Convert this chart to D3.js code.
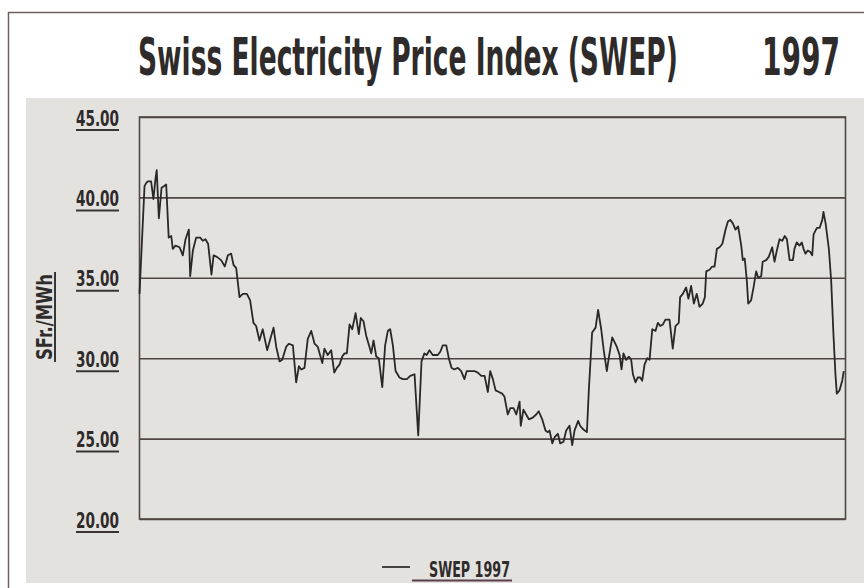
<!DOCTYPE html>
<html>
<head>
<meta charset="utf-8">
<script src="https://cdn.jsdelivr.net/npm/d3@7"></script>
<style>
  html, body { margin: 0; padding: 0; background: #fff; }
  svg { display: block; }
  .lbl { font-family: "Liberation Sans Narrow", "Arial Narrow", "DejaVu Sans Condensed", sans-serif; font-weight: bold; fill: #2e2b2a; }
</style>
</head>
<body>
<div class="chart-swep"></div>
<script>
const titleText = `Swiss Electricity Price Index (SWEP)`;
const yearText = `1997`;
const yTitle = `SFr./MWh`;
const seriesName = `SWEP 1997`;
const yTicks = [20, 25, 30, 35, 40, 45];

// day of year
const days = [
  0, 2.6, 3.5, 4.3, 6.0, 7.2, 8.3, 8.9, 10.0, 11.4, 12.6, 13.8, 15.1, 16.4, 17.2, 18.6, 20.7, 22.4, 23.8, 25.5,
  26.2, 27.6, 29.3, 31.4, 32.7, 34.1, 35.5, 37.2, 38.3, 40.0, 42.2, 44.1, 45.7, 47.4, 48.6, 50.0, 51.7, 53.4, 55.5, 57.2,
  58.9, 60.3, 62.0, 63.7, 66.0, 68.1, 69.3, 70.7, 72.4, 73.8, 75.8, 77.2, 79.3, 81.0, 82.4, 83.6, 85.3, 87.0, 88.8, 90.5,
  92.2, 94.5, 95.6, 97.3, 99.1, 100.7, 102.0, 103.4, 104.8, 106.0, 107.2, 108.6, 110.0, 111.7, 113.4, 114.4, 115.8, 117.2, 118.9, 119.8,
  121.0, 122.4, 123.7, 125.5, 127.0, 128.4, 129.6, 131.0, 132.4, 134.4, 136.1, 138.2, 140.0, 142.2, 144.1, 145.8, 147.3, 148.5, 149.9, 151.6,
  153.0, 154.2, 155.5, 156.8, 158.6, 159.9, 161.3, 162.7, 164.6, 166.3, 168.0, 169.2, 171.5, 173.2, 174.9, 176.7, 178.4, 180.1, 181.3, 182.7,
  184.1, 185.8, 187.5, 188.7, 190.4, 191.7, 193.4, 194.8, 196.5, 197.1, 198.5, 199.9, 201.3, 203.3, 205.1, 206.4, 208.2, 209.9, 211.1, 212.0,
  213.4, 214.7, 216.3, 217.5, 219.2, 220.6, 222.3, 223.7, 224.9, 226.8, 227.8, 229.2, 231.3, 232.3, 234.0, 235.8, 237.1, 238.7, 240.0, 241.6,
  242.6, 244.4, 245.6, 246.8, 248.2, 249.2, 250.2, 251.6, 253.0, 254.2, 255.1, 256.4, 257.6, 258.9, 259.9, 261.1, 262.5, 263.7, 265.1, 266.8,
  268.0, 269.2, 270.6, 271.9, 274.0, 275.7, 277.1, 278.8, 279.5, 280.9, 282.6, 283.8, 285.2, 286.6, 288.1, 289.5, 291.2, 292.3, 293.0, 294.7,
  296.1, 297.3, 298.5, 299.9, 301.3, 303.0, 304.2, 305.4, 306.7, 308.1, 309.5, 311.1, 311.9, 312.9, 314.0, 314.7, 316.2, 317.6, 318.8, 319.9,
  321.4, 322.2, 324.0, 325.3, 327.1, 328.3, 329.5, 330.9, 332.3, 333.6, 334.7, 336.1, 337.8, 338.6, 339.8, 341.2, 342.4, 343.3, 344.3, 345.5,
  346.8, 347.8, 348.5, 350.2, 351.6, 353.0, 353.6, 354.7, 356.4, 357.6, 358.8, 359.8, 360.5, 361.9, 363.3, 364.1
];

// SFr./MWh
const prices = [
  34.0, 40.7, 40.9, 41.0, 41.0, 39.9, 41.2, 41.7, 38.7, 40.6, 40.7, 40.8, 37.5, 37.6, 36.8, 37.0, 36.9, 36.4, 37.4, 38.0,
  35.1, 36.7, 37.5, 37.5, 37.3, 37.4, 37.1, 35.2, 36.4, 36.3, 36.1, 35.7, 36.4, 36.5, 35.8, 35.6, 33.8, 34.0, 34.0, 33.6,
  32.2, 32.0, 31.1, 31.8, 30.5, 31.4, 31.9, 30.7, 29.8, 29.9, 30.7, 30.9, 30.8, 28.5, 29.5, 29.3, 29.4, 31.2, 31.7, 30.9,
  30.7, 29.7, 30.6, 30.2, 30.5, 29.1, 29.4, 29.6, 30.1, 30.3, 30.3, 32.1, 31.8, 32.8, 31.5, 32.5, 32.3, 31.4, 30.7, 30.3,
  31.1, 30.1, 30.0, 28.2, 30.8, 31.7, 31.8, 30.8, 29.2, 28.8, 28.7, 28.7, 28.9, 29.0, 25.2, 29.8, 30.3, 30.2, 30.5, 30.2,
  30.2, 30.2, 30.4, 30.8, 30.8, 30.0, 29.4, 29.3, 29.4, 29.2, 28.7, 29.2, 29.2, 29.2, 29.1, 28.9, 28.9, 27.9, 29.2, 28.7,
  28.0, 27.9, 27.8, 27.6, 26.5, 26.9, 26.9, 26.5, 27.3, 25.8, 26.8, 26.5, 26.2, 26.3, 26.5, 26.7, 26.2, 25.5, 25.4, 25.5,
  24.7, 25.1, 25.3, 24.7, 24.8, 25.5, 25.8, 24.6, 25.5, 26.1, 25.8, 25.6, 25.4, 28.0, 31.6, 31.9, 33.0, 31.8, 30.5, 29.2,
  30.0, 31.3, 31.0, 30.7, 30.2, 29.3, 30.3, 29.9, 30.1, 29.9, 29.0, 28.5, 28.8, 28.8, 28.6, 29.6, 30.0, 29.9, 31.8, 31.7,
  32.2, 32.0, 32.1, 32.4, 32.4, 30.6, 32.0, 32.2, 33.8, 34.0, 34.4, 33.7, 34.5, 33.4, 34.0, 33.2, 33.4, 33.8, 35.4, 35.5,
  35.7, 35.7, 36.8, 36.9, 37.1, 38.0, 38.5, 38.6, 38.4, 38.0, 38.2, 37.0, 36.1, 36.2, 34.8, 33.4, 33.6, 34.5, 35.4, 35.0,
  35.1, 36.0, 36.1, 36.3, 36.9, 36.0, 36.7, 37.4, 37.3, 37.6, 37.4, 36.1, 36.1, 36.8, 37.2, 37.0, 37.2, 36.8, 36.5, 36.7,
  36.6, 36.4, 37.7, 38.1, 38.1, 38.6, 39.1, 38.4, 36.8, 34.8, 31.4, 29.0, 27.8, 28.0, 28.6, 29.2
];

const W = 864;
const H = 588;
const plot = { left: 139.5, right: 845.5, top: 117, bottom: 519 };

const svg = d3.select(`.chart-swep`).append(`svg`)
  .attr(`width`, W)
  .attr(`height`, H);

// squeeze a text horizontally to a given width (condensed face)
const fitText = (sel, x0, y0, w) => {
  const n = sel.node().getComputedTextLength();
  sel.attr(`transform`, `translate(${x0},${y0}) scale(${w / n},1)`);
};

// page frame and grey panel
svg.append(`path`)
  .attr(`d`, `M8.5,${H} L8.5,12.5 L${W},12.5`)
  .attr(`fill`, `none`)
  .attr(`stroke`, `#6e625d`)
  .attr(`stroke-width`, 1.5);

svg.append(`rect`)
  .attr(`x`, 26).attr(`y`, 98)
  .attr(`width`, W - 26).attr(`height`, 485)
  .attr(`fill`, `#e4e2df`);

// title
const title = svg.append(`text`).attr(`class`, `lbl`)
  .attr(`font-size`, 51)
  .text(titleText);
fitText(title, 138, 75, 540);

const year = svg.append(`text`).attr(`class`, `lbl`)
  .attr(`font-size`, 51)
  .text(yearText);
fitText(year, 762, 75, 78);

const x = d3.scaleLinear()
  .domain([0, 365])
  .range([plot.left, plot.right]);
const y = d3.scaleLinear()
  .domain([20, 45])
  .range([plot.bottom, plot.top]);

// horizontal grid
const grid = svg.append(`g`)
  .attr(`transform`, `translate(${plot.left},0)`)
  .call(d3.axisLeft(y).tickValues(yTicks).tickSize(-(plot.right - plot.left)).tickFormat(``));
grid.select(`.domain`).remove();
grid.selectAll(`line`)
  .attr(`stroke`, `#4f4643`)
  .attr(`stroke-width`, 1.6);

svg.append(`rect`)
  .attr(`x`, plot.left).attr(`y`, plot.top)
  .attr(`width`, plot.right - plot.left)
  .attr(`height`, plot.bottom - plot.top)
  .attr(`fill`, `none`)
  .attr(`stroke`, `#4f4643`)
  .attr(`stroke-width`, 1.6);

// tick labels, underlined
const labelRight = 119;
const labelWidth = 43;
const yAxis = svg.append(`g`)
  .attr(`transform`, `translate(${labelRight},0)`)
  .call(d3.axisLeft(y).tickValues(yTicks).tickSize(0).tickPadding(0).tickFormat(d3.format(`.2f`)));
yAxis.select(`.domain`).remove();
yAxis.selectAll(`text`)
  .attr(`class`, `lbl`)
  .attr(`font-size`, 21)
  .attr(`font-family`, null)
  .attr(`dy`, 8)
  .attr(`textLength`, labelWidth)
  .attr(`lengthAdjust`, `spacingAndGlyphs`);
yAxis.selectAll(`.tick`).append(`line`)
  .attr(`x1`, -labelWidth).attr(`x2`, 0)
  .attr(`y1`, 12.5).attr(`y2`, 12.5)
  .attr(`stroke`, `#3a3432`)
  .attr(`stroke-width`, 2);

// axis title
const midY = 317;
svg.append(`text`).attr(`class`, `lbl`)
  .attr(`transform`, `translate(52,${midY}) rotate(-90)`)
  .attr(`text-anchor`, `middle`)
  .attr(`font-size`, 21)
  .attr(`textLength`, 86).attr(`lengthAdjust`, `spacingAndGlyphs`)
  .text(yTitle);
svg.append(`line`)
  .attr(`x1`, 55).attr(`x2`, 55)
  .attr(`y1`, midY - 45).attr(`y2`, midY + 45)
  .attr(`stroke`, `#3a3432`)
  .attr(`stroke-width`, 2);

// series
const line = d3.line()
  .x((d, i) => x(days[i]))
  .y(d => y(d));

svg.append(`path`)
  .datum(prices)
  .attr(`d`, line)
  .attr(`fill`, `none`)
  .attr(`stroke`, `#2a2727`)
  .attr(`stroke-width`, 1.8)
  .attr(`stroke-linejoin`, `round`);

// legend
svg.append(`line`)
  .attr(`x1`, 382).attr(`x2`, 410)
  .attr(`y1`, 567).attr(`y2`, 567)
  .attr(`stroke`, `#2a2727`)
  .attr(`stroke-width`, 1.7);
svg.append(`text`).attr(`class`, `lbl`)
  .attr(`x`, 429).attr(`y`, 577)
  .attr(`font-size`, 21)
  .attr(`textLength`, 81).attr(`lengthAdjust`, `spacingAndGlyphs`)
  .text(seriesName);
svg.append(`line`)
  .attr(`x1`, 412).attr(`x2`, 512)
  .attr(`y1`, 580.5).attr(`y2`, 580.5)
  .attr(`stroke`, `#5a3f4c`)
  .attr(`stroke-width`, 2);
</script>
</body>
</html>
